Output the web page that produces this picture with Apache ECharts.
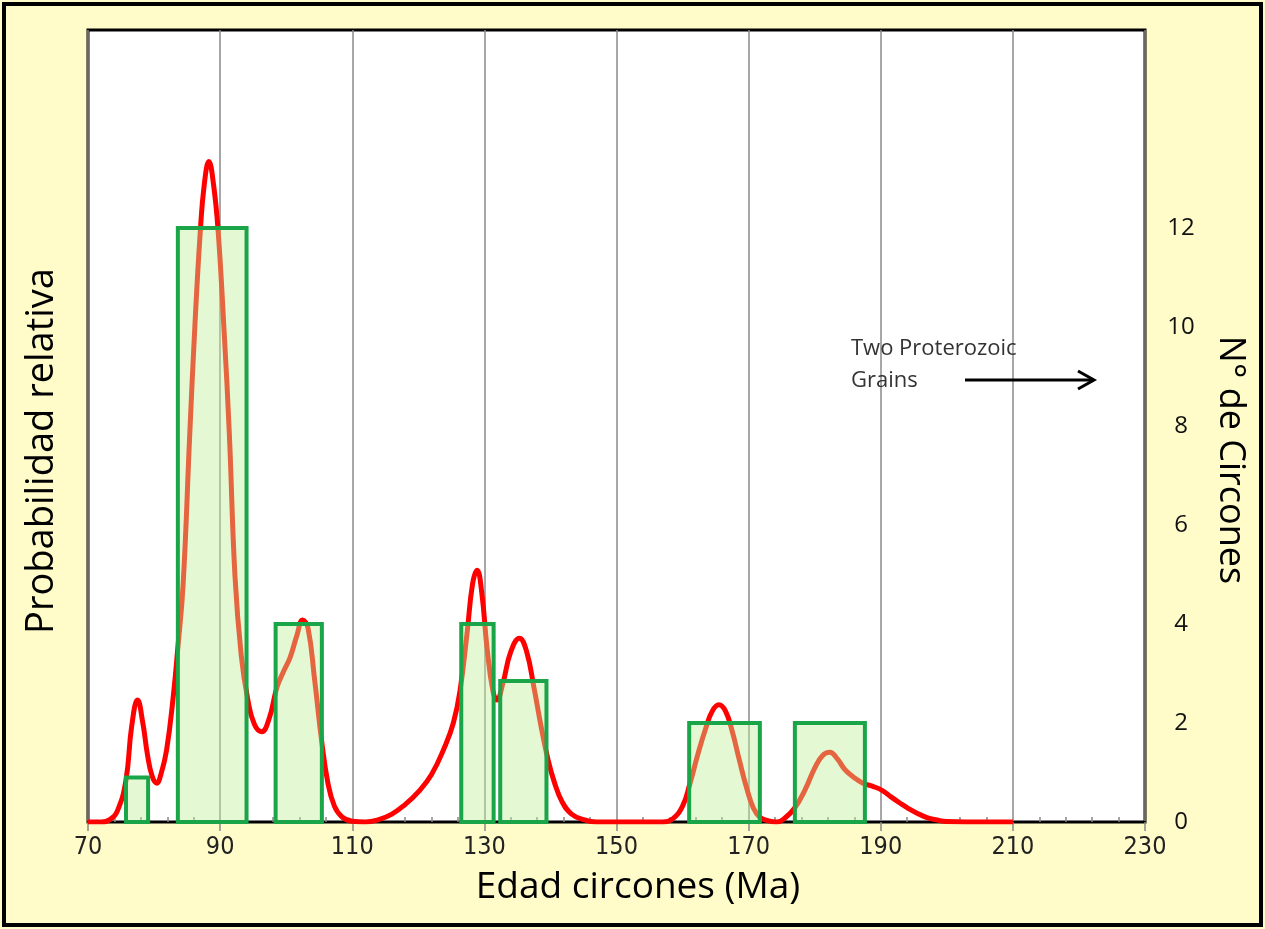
<!DOCTYPE html>
<html>
<head>
<meta charset="utf-8">
<script src="https://cdn.jsdelivr.net/npm/echarts@6/dist/echarts.min.js"></script>
<style>
html,body{margin:0;padding:0;background:#fffcc9;}
#chart{width:1265px;height:929px;}
</style>
</head>
<body>
<div id="chart"></div>
<script>
// ---- Data ----
// Histogram bins (Ma) and zircon counts (right axis)
const binStart = [75.75, 83.6, 98.4, 126.5, 132.4, 161.0, 177.0];
const binEnd   = [79.1, 94.0, 105.4, 131.4, 139.4, 171.7, 187.6];
const binCount = [0.9, 12, 4, 4, 2.85, 2, 2];

// Relative probability curve (left axis, relative units 0-100)
const probAge = [70, 72, 73.3, 74.5, 75.75, 76.6, 77.5, 78.3, 79.0, 79.7, 80.4, 81.1, 81.9, 82.9, 83.6, 84.4, 85.4, 86.2, 87.0, 87.6, 88.3, 89.0, 89.7, 90.6, 91.4, 92.25, 93.2, 94.2, 95.2, 96.3, 97.4, 98.6, 99.6, 100.6, 101.6, 102.5, 103.3, 104.3, 105.4, 106.3, 107.3, 108.5, 110, 112, 114, 116, 118, 120, 122, 124, 125.3, 126.3, 127.4, 128.2, 128.9, 129.6, 130.4, 131.3, 131.9, 132.8, 134.0, 135.3, 136.4, 137.5, 138.6, 139.6, 140.6, 141.8, 143.2, 145, 147, 157, 158.5, 160, 161.1, 162.3, 163.5, 164.5, 165.5, 166.5, 167.5, 168.6, 169.7, 170.7, 171.7, 173, 174.3, 175.5, 177, 178.5, 180, 181.2, 182.3, 183.4, 184.6, 186, 187.3, 188.8, 190.2, 191.5, 192.9, 194.2, 195.5, 197, 198.5, 200, 203, 210];
const probValue = [0, 0, 0.3, 1.5, 5.3, 12, 15.4, 12.5, 8.5, 5.8, 4.9, 6.2, 9.1, 15.8, 22, 30, 48.9, 63, 74.6, 80.5, 83.4, 80.5, 74.6, 62, 48.9, 31, 21, 15.4, 12.3, 11.4, 13, 17, 19, 20.8, 23.5, 25.5, 24.5, 18, 10, 5, 2, 0.6, 0.1, 0, 0.3, 1.0, 2.2, 3.8, 6, 9.5, 12.5, 16.5, 24, 30, 31.8, 29, 22, 16.5, 15.4, 17.5, 21.5, 23.2, 21.5, 17, 12, 8, 5, 2.5, 1, 0.3, 0, 0, 0.4, 2, 4.8, 8.5, 11.8, 14, 14.8, 14, 11.5, 7.8, 4.3, 1.8, 0.6, 0.15, 0, 0.5, 1.8, 4, 6.8, 8.4, 8.8, 8, 6.6, 5.6, 4.9, 4.5, 4.0, 3.2, 2.4, 1.7, 1.1, 0.55, 0.25, 0.05, 0, 0];

// Axis settings
const xMin = 70, xMax = 230, xStep = 20;
const countMax = 16, countStep = 2, countLabelMax = 12;

// Texts
const xTitle = 'Edad circones (Ma)';
const yLeftTitle = 'Probabilidad relativa';
const yRightTitle = 'N° de Circones';
const noteText = 'Two Proterozoic\nGrains';

const curveData = probAge.map((a, i) => [a, probValue[i]]);
const binData = binStart.map((s, i) => [s, binEnd[i], binCount[i]]);

const chart = echarts.init(document.getElementById('chart'), null, {renderer: 'canvas'});

const option = {
  backgroundColor: '#fffcc9',
  animation: false,
  grid: {
    left: 88, right: 120, top: 30, bottom: 107,
    show: true, backgroundColor: '#ffffff', borderColor: '#000000', borderWidth: 3
  },
  xAxis: [
    {
      type: 'value', min: xMin, max: xMax, interval: xStep, position: 'bottom',
      axisLine: {show: true, lineStyle: {color: '#000', width: 2}},
      axisTick: {show: true, inside: false, length: 9, lineStyle: {color: '#888', width: 1.5}},
      axisLabel: {
        show: true, margin: 13, color: '#222', fontSize: 25,
        fontFamily: "'Liberation Sans Narrow', 'DejaVu Sans Condensed', 'Arial Narrow', sans-serif"
      },
      splitLine: {show: true, lineStyle: {color: '#8a8a8a', width: 1.5}},
      minorTick: {show: false}
    },
    {
      type: 'value', min: xMin, max: xMax, interval: xStep, position: 'bottom',
      axisLine: {show: false},
      axisTick: {show: false, inside: true},
      axisLabel: {show: false},
      splitLine: {show: false},
      minorTick: {show: true, splitNumber: 5, length: 5, lineStyle: {color: '#888', width: 1.5}}
    }
  ],
  yAxis: [
    {
      type: 'value', min: 0, max: 100, position: 'left',
      axisLine: {show: false}, axisTick: {show: false}, axisLabel: {show: false}, splitLine: {show: false}
    },
    {
      type: 'value', min: 0, max: countMax, interval: countStep, position: 'right',
      axisLine: {show: false}, axisTick: {show: false}, splitLine: {show: false},
      axisLabel: {
        show: true, margin: 36, align: 'center', color: '#111', fontSize: 24, fontFamily: "'Open Sans', sans-serif",
        formatter: v => (v <= countLabelMax ? String(v) : '')
      }
    }
  ],
  series: [
    {
      type: 'line', name: 'prob', xAxisIndex: 0, yAxisIndex: 0,
      data: curveData, showSymbol: false, smooth: 0.45,
      lineStyle: {color: '#ff0000', width: 5}, z: 3
    },
    {
      type: 'custom', name: 'hist', xAxisIndex: 0, yAxisIndex: 1, z: 4,
      data: binData,
      renderItem: function (params, api) {
        const p0 = api.coord([api.value(0), 0]);
        const p1 = api.coord([api.value(1), api.value(2)]);
        return {
          type: 'rect',
          shape: {x: p0[0], y: p1[1], width: p1[0] - p0[0], height: p0[1] - p1[1]},
          style: {fill: 'rgba(190,240,150,0.42)', stroke: '#1aa548', lineWidth: 4}
        };
      }
    }
  ],
  graphic: [
    {type: 'rect', shape: {x: 4, y: 4, width: 1257, height: 921}, style: {fill: null, stroke: '#000', lineWidth: 4}, z: 100},
    {type: 'text', x: 638, y: 887, style: {text: xTitle, fontSize: 37, fontFamily: "'Open Sans', sans-serif", fill: '#000', textAlign: 'center', textVerticalAlign: 'middle', verticalAlign: 'middle'}},
    {type: 'text', x: 42, y: 451, rotation: Math.PI / 2, style: {text: yLeftTitle, fontSize: 38, fontFamily: "'Open Sans', sans-serif", fill: '#000', textAlign: 'center', textVerticalAlign: 'middle', verticalAlign: 'middle'}},
    {type: 'text', x: 1230, y: 460, rotation: -Math.PI / 2, style: {text: yRightTitle, fontSize: 36, fontFamily: "'Open Sans', sans-serif", fill: '#000', textAlign: 'center', textVerticalAlign: 'middle', verticalAlign: 'middle'}},
    {type: 'text', x: 851, y: 333, z: 10, style: {text: noteText, fontSize: 22, lineHeight: 32, fontFamily: "'Open Sans', sans-serif", fill: '#333333', textAlign: 'left', textVerticalAlign: 'top', verticalAlign: 'top'}},
    {type: 'line', z: 10, shape: {x1: 965, y1: 380, x2: 1093, y2: 380}, style: {stroke: '#000', lineWidth: 3}},
    {type: 'polyline', z: 10, shape: {points: [[1078, 371], [1094, 380], [1078, 389]]}, style: {stroke: '#000', lineWidth: 3, fill: null}}
  ]
};
chart.setOption(option);
</script>
</body>
</html>
